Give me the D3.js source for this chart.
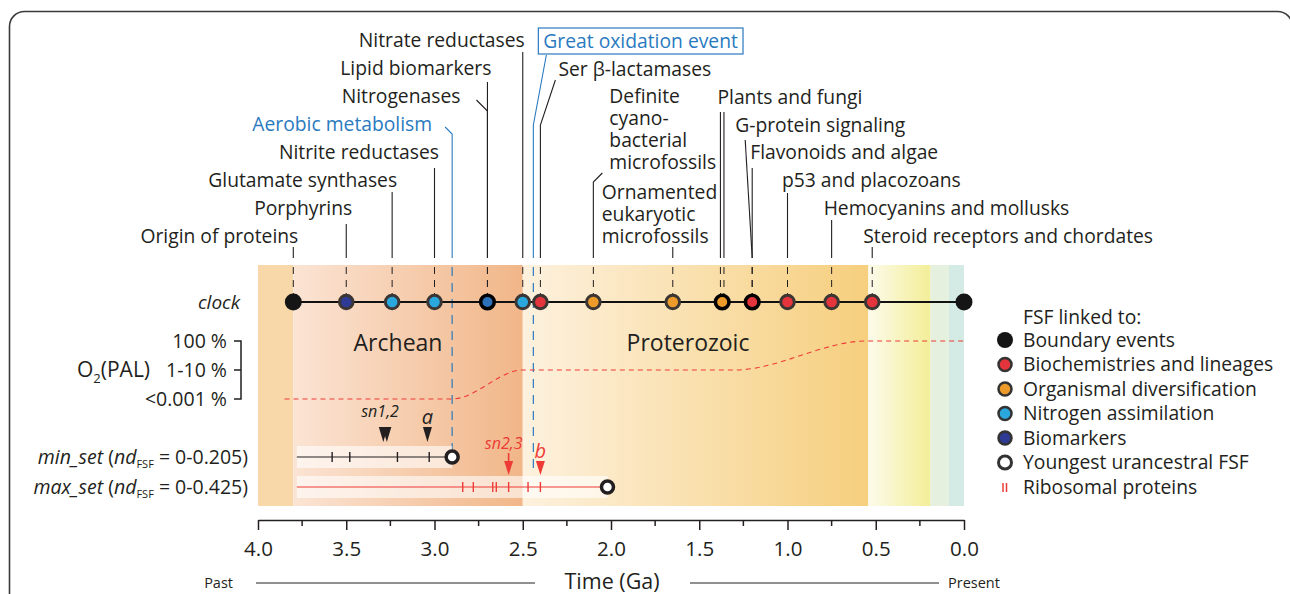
<!DOCTYPE html>
<html>
<head>
<meta charset="utf-8">
<script src="https://cdn.jsdelivr.net/npm/d3@7"></script>
<style>
body{margin:0;background:#fff}
svg{display:block;font-family:'Open Sans',sans-serif}
text{fill:#231f20}
</style>
</head>
<body>
<div id="container"></div>
<script>
// events placed on the molecular clock (age in Ga)
const eventNames = ['Origin of proteins','Porphyrins','Glutamate synthases','Nitrite reductases','Aerobic metabolism',
  'Nitrogenases','Lipid biomarkers','Nitrate reductases','Great oxidation event','Ser β-lactamases',
  'Definite|cyano-|bacterial|microfossils','Ornamented|eukaryotic|microfossils','Plants and fungi','Plants and fungi',
  'G-protein signaling','Flavonoids and algae','p53 and placozoans','Hemocyanins and mollusks','Steroid receptors and chordates']
const eventAges = [3.8, 3.5, 3.24, 3.0, 2.9, 2.7, 2.7, 2.5, 2.44, 2.4, 2.1, 1.65, 1.38, 1.36, 1.2, 1.2, 1.0, 0.75, 0.52]
const eventTypes = ['boundary','biomarkers','nitrogen','nitrogen','oxygen','nitrogen','biomarkers','nitrogen','oxygen','biochem',
  'organismal','organismal','organismal','organismal','biochem','biochem','biochem','biochem','biochem']
const presentAge = 0.0

// geological eons / eras behind the chart
const eraNames = ['Hadean','Archean','Proterozoic','Paleozoic','Mesozoic','Cenozoic']
const eraStart = [4.0, 3.8, 2.5, 0.542, 0.19, 0.085]
const eraEnd = [3.8, 2.5, 0.542, 0.19, 0.085, 0.0]

// atmospheric oxygen
const o2Ages = [3.85, 2.9, 2.5, 1.3, 0.55, 0.0]
const o2Levels = [0, 0, 1, 1, 2, 2]
const o2LevelLabels = ['<0.001 %', '1-10 %', '100 %']

// ribosomal protein sets
const setStart = 3.78
const minSetTicks = [3.58, 3.48, 3.21, 3.03]
const minSetYoungest = 2.9
const maxSetTicks = [2.84, 2.78, 2.67, 2.65, 2.58, 2.47, 2.40]
const maxSetYoungest = 2.02
const minArrowLabels = ['sn1,2', 'a']
const minArrowAges = [[3.29, 3.27], [3.04]]
const maxArrowLabels = ['sn2,3', 'b']
const maxArrowAges = [[2.58], [2.40]]

const timeTicks = [4.0, 3.5, 3.0, 2.5, 2.0, 1.5, 1.0, 0.5, 0.0]
const minorTicks = [3.75, 3.25, 2.75, 2.25, 1.75, 1.25, 0.75, 0.25]

const legendLabels = ['Boundary events','Biochemistries and lineages','Organismal diversification','Nitrogen assimilation','Biomarkers','Youngest urancestral FSF','Ribosomal proteins']
const legendTypes = ['boundary','biochem','organismal','nitrogen','biomarkers','youngest','ribosomal']

// ---- layout ----
const W = 1290, H = 594
const bandTop = 265, bandBottom = 506
const clockY = 302
const minY = 457, maxY = 487
const axisY = 520
const blue = '#2a7abf'
const red = '#ee3b36'
const fs = '19.3px'

const fills = {boundary:'#151515', biomarkers:'#2e3a93', nitrogen:'#2aa8de', biochem:'#e3353b', organismal:'#ec9a2a', youngest:'#fff'}

// label placement: anchor, dx from event x, y of first line, leader [dx start, y start, y of kink]
const labelLayout = [
  {a:'end', dx:5, y:236, lead:[0, 247, 247]},
  {a:'end', dx:6, y:208, lead:[0, 224, 224]},
  {a:'end', dx:5, y:180, lead:[0, 192, 192]},
  {a:'end', dx:4.5, y:152, lead:[0, 168, 168]},
  {a:'end', dx:-20, y:124, lead:[-7, 127, 134]},
  {a:'end', dx:-27, y:96, lead:[-11, 100, 111]},
  {a:'end', dx:4, y:68, lead:[0, 82, 82]},
  {a:'end', dx:2, y:40, lead:[0, 52, 52]},
  {a:'start', dx:10, y:41, lead:[13, 55, 125], box:true},
  {a:'start', dx:18, y:69, lead:[15, 80, 125]},
  {a:'start', dx:16, y:96, lead:[9, 173, 182]},
  {a:'start', dx:-71, y:192, lead:[0, 247, 247]},
  {a:'start', dx:-3, y:97, lead:[0, 112, 112]},
  {a:null, dx:0, y:0, lead:[0, 112, 112]},
  {a:'start', dx:-17, y:125, lead:[-7, 140, 258]},
  {a:'start', dx:-2, y:152, lead:[0, 168, 168]},
  {a:'start', dx:-5.5, y:180, lead:[0, 193, 193]},
  {a:'start', dx:-8, y:208, lead:[0, 220, 220]},
  {a:'start', dx:-9, y:236, lead:[0, 247, 247]}
]

const x = d3.scaleLinear().domain([4, 0]).range([258, 964])
const o2y = d3.scaleLinear().domain([0, 2]).range([399, 341])

const svg = d3.select('#container').append('svg')
  .attr('width', W).attr('height', H)

// frame
svg.append('rect')
  .attr('x', 9.5).attr('y', 11.5).attr('width', 1283).attr('height', 660).attr('rx', 15)
  .attr('fill', 'none').attr('stroke', '#3a3a3a').attr('stroke-width', 1.6)

// era gradients
const eraColors = [['#f8d8a8','#f8d8a8'],['#fbe4d4','#f1b688'],['#fdf1de','#f6cf7e'],['#fcfbea','#f3ee98'],['#e5f0de','#e5f0de'],['#d4eae4','#d4eae4']]
const defs = svg.append('defs')
eraNames.forEach((n, i) => {
  const g = defs.append('linearGradient').attr('id', 'g' + i)
  g.append('stop').attr('offset', '0%').attr('stop-color', eraColors[i][0])
  g.append('stop').attr('offset', '100%').attr('stop-color', eraColors[i][1])
})

svg.selectAll('.era')
  .data(eraNames)
  .enter()
  .append('rect')
  .attr('class', 'era')
  .attr('x', (d, i) => x(eraStart[i]))
  .attr('width', (d, i) => x(eraEnd[i]) - x(eraStart[i]))
  .attr('y', bandTop)
  .attr('height', bandBottom - bandTop)
  .attr('fill', (d, i) => 'url(#g' + i + ')')

svg.append('text').text('Archean')
  .attr('x', (x(3.8) + x(2.5)) / 2 - 10).attr('y', 343).attr('dy', '0.35em')
  .attr('text-anchor', 'middle').style('font-size', '23px')
svg.append('text').text('Proterozoic')
  .attr('x', 688).attr('y', 343).attr('dy', '0.35em')
  .attr('text-anchor', 'middle').style('font-size', '23px')

// event labels
const events = eventNames.map((n, i) => ({name:n, age:eventAges[i], type:eventTypes[i], lay:labelLayout[i]}))

events.forEach(d => {
  const L = d.lay
  const ex = x(d.age)
  const col = d.type === 'oxygen' ? blue : '#231f20'
  if (L.a) {
    const t = svg.append('text')
      .attr('text-anchor', L.a)
      .style('font-size', fs)
      .style('fill', col)
    d.name.split('|').forEach((line, k) => {
      t.append('tspan').attr('x', ex + L.dx).attr('y', L.y + k * 22).attr('dy', '0.35em').text(line)
    })
    if (L.box) {
      const bb = t.node().getBBox()
      svg.append('rect')
        .attr('x', bb.x - 5).attr('y', L.y - 13).attr('width', bb.width + 10).attr('height', 26)
        .attr('fill', 'none').attr('stroke', blue).attr('stroke-width', 1.2)
    }
  }
  // solid leader above the band
  svg.append('path')
    .attr('d', `M${ex + L.lead[0]},${L.lead[1]}L${ex},${L.lead[2]}L${ex},258`)
    .attr('fill', 'none').attr('stroke', col).attr('stroke-width', 1.1)
  // dashed part inside the band
  let yEnd = clockY - 8
  if (d.type === 'oxygen') yEnd = d.age > 2.6 ? minY - 7 : 473
  svg.append('line')
    .attr('x1', ex).attr('x2', ex).attr('y1', 267).attr('y2', yEnd)
    .attr('stroke', col).attr('stroke-width', d.type === 'oxygen' ? 1.2 : 1)
    .attr('stroke-dasharray', d.type === 'oxygen' ? '9,7' : '7,6')
})

// O2 curve
svg.append('path')
  .datum(o2Ages.map((a, i) => [a, o2Levels[i]]))
  .attr('d', d3.line().x(d => x(d[0])).y(d => o2y(d[1])).curve(d3.curveMonotoneX))
  .attr('fill', 'none').attr('stroke', red).attr('stroke-width', 1.1)
  .attr('stroke-dasharray', '5,4')

// O2 bracket
svg.append('path')
  .attr('d', `M234,${o2y(2)}H241V${o2y(0)}H234M234,${o2y(1)}H241`)
  .attr('fill', 'none').attr('stroke', '#231f20').attr('stroke-width', 1.5)
svg.selectAll('.o2lab')
  .data(o2LevelLabels)
  .enter()
  .append('text')
  .attr('x', 227).attr('y', (d, i) => o2y(i)).attr('dy', '0.35em')
  .attr('text-anchor', 'end').style('font-size', '19.5px')
  .text(d => d)
const o2t = svg.append('text').attr('x', 77).attr('y', o2y(1)).attr('dy', '0.35em').style('font-size', '21px')
o2t.append('tspan').text('O')
o2t.append('tspan').text('2').style('font-size', '13px').attr('dy', '6')
o2t.append('tspan').text('(PAL)').attr('dy', '-6')

// clock line and points
svg.append('text').text('clock').attr('x', 240).attr('y', clockY).attr('dy', '0.35em')
  .attr('text-anchor', 'end').style('font-size', '19px').style('font-style', 'italic')
svg.append('line')
  .attr('x1', x(eventAges[0])).attr('x2', x(presentAge)).attr('y1', clockY).attr('y2', clockY)
  .attr('stroke', '#111').attr('stroke-width', 1.8)

const clockEvents = events.filter(d => d.type !== 'oxygen')
const clusters = []
clockEvents.forEach(d => {
  const c = clusters.find(c => Math.abs(c.ages[0] - d.age) < 0.03)
  if (c) { c.ages.push(d.age); c.types.push(d.type) } else clusters.push({ages:[d.age], types:[d.type]})
})
clusters.push({ages:[presentAge], types:['boundary']})

svg.selectAll('.pt')
  .data(clusters)
  .enter()
  .append('circle')
  .attr('class', 'pt')
  .attr('cx', d => x(d3.mean(d.ages)))
  .attr('cy', clockY)
  .attr('r', d => d.types[0] === 'boundary' ? 8.5 : 6.8)
  .attr('fill', d => {
    const cols = Array.from(new Set(d.types)).map(t => fills[t])
    return cols.length > 1 ? d3.interpolateRgb(cols[0], cols[1])(0.5) : cols[0]
  })
  .attr('stroke', d => d.types[0] === 'boundary' ? '#111' : (d.ages.length > 1 ? '#000' : '#3b3633'))
  .attr('stroke-width', d => d.types[0] === 'boundary' ? 0 : (d.ages.length > 1 ? 3.6 : 3))

// min_set / max_set rows
function drawSet(yy, ticks, youngest, color, arrowLabels, arrowAges, label) {
  svg.append('rect')
    .attr('x', x(setStart)).attr('y', yy - 11)
    .attr('width', x(youngest) - x(setStart)).attr('height', 22)
    .attr('fill', '#fff').attr('opacity', 0.6)
  svg.append('line')
    .attr('x1', x(setStart)).attr('x2', x(youngest)).attr('y1', yy).attr('y2', yy)
    .attr('stroke', color).attr('stroke-width', 1.2)
  svg.selectAll(null)
    .data(ticks)
    .enter()
    .append('line')
    .attr('x1', d => x(d)).attr('x2', d => x(d))
    .attr('y1', yy - 5).attr('y2', yy + 5)
    .attr('stroke', color).attr('stroke-width', 1.4)
  svg.append('circle')
    .attr('cx', x(youngest)).attr('cy', yy).attr('r', 6)
    .attr('fill', '#fff').attr('stroke', '#231f20').attr('stroke-width', 3.5)

  arrowLabels.forEach((lab, i) => {
    const ages = arrowAges[i]
    const isB = lab.length === 1
    const tip = yy - (color === red ? 12 : 15)
    const headTop = tip - (color === red ? 14 : 15)
    ages.forEach(a => {
      if (!isB && color === red) {
        svg.append('line').attr('x1', x(a)).attr('x2', x(a)).attr('y1', tip - 22).attr('y2', headTop)
          .attr('stroke', color).attr('stroke-width', 1.6)
      }
      svg.append('path')
        .attr('d', `M${x(a) - 4.5},${headTop}L${x(a) + 4.5},${headTop}L${x(a)},${tip}Z`)
        .attr('fill', color === red ? red : '#231f20')
    })
    svg.append('text')
      .attr('x', x(d3.mean(ages)) - (isB ? 0 : 5))
      .attr('y', isB ? headTop - 10 : (color === red ? tip - 32 : headTop - 16))
      .attr('dy', '0.35em').attr('text-anchor', 'middle')
      .style('font-style', 'italic').style('font-size', isB ? '20px' : '16px')
      .style('fill', color === red ? red : '#231f20')
      .text(lab)
  })

  const t = svg.append('text').attr('x', 248).attr('y', yy).attr('dy', '0.35em')
    .attr('text-anchor', 'end').style('font-size', '19.5px')
  t.append('tspan').text(label).style('font-style', 'italic')
  t.append('tspan').text('  (')
  t.append('tspan').text('nd').style('font-style', 'italic')
  t.append('tspan').text('FSF').style('font-size', '11px').attr('dy', 4)
  t.append('tspan').text(' = 0-' + (label === 'min_set' ? '0.205' : '0.425') + ')').attr('dy', -4)
}
drawSet(minY, minSetTicks, minSetYoungest, '#231f20', minArrowLabels, minArrowAges, 'min_set')
drawSet(maxY, maxSetTicks, maxSetYoungest, red, maxArrowLabels, maxArrowAges, 'max_set')

// time axis
const axis = svg.append('g')
  .attr('transform', `translate(0,${axisY})`)
  .call(d3.axisBottom(x).tickValues(timeTicks).tickFormat(d3.format('.1f')).tickSize(10).tickSizeOuter(0).tickPadding(11))
axis.selectAll('text').style('font-size', '20.5px').style('font-family', "'Open Sans',sans-serif").attr('fill', '#231f20')
axis.selectAll('line, path').attr('stroke', '#231f20').attr('stroke-width', 1.5)
axis.selectAll('.minor')
  .data(minorTicks)
  .enter()
  .append('line')
  .attr('x1', d => x(d)).attr('x2', d => x(d)).attr('y1', 0).attr('y2', 6)
  .attr('stroke', '#231f20').attr('stroke-width', 1.5)

svg.append('text').text('Past').attr('x', 233).attr('y', 583).attr('dy', '0.35em')
  .attr('text-anchor', 'end').style('font-size', '14.5px')
svg.append('line').attr('x1', 256).attr('x2', 535).attr('y1', 583).attr('y2', 583).attr('stroke', '#231f20').attr('stroke-width', 1)
svg.append('text').text('Time (Ga)').attr('x', 612).attr('y', 581).attr('dy', '0.35em')
  .attr('text-anchor', 'middle').style('font-size', '21.5px')
svg.append('line').attr('x1', 690).attr('x2', 939).attr('y1', 583).attr('y2', 583).attr('stroke', '#231f20').attr('stroke-width', 1)
svg.append('text').text('Present').attr('x', 948).attr('y', 583).attr('dy', '0.35em')
  .style('font-size', '14.5px')

// legend
const legend = svg.append('g').attr('transform', 'translate(1005,340)')
legend.append('text').text('FSF linked to:').attr('x', 18).attr('y', -23).attr('dy', '0.35em').style('font-size', fs)
legendTypes.forEach((t, i) => {
  const gy = i * 24.5
  if (t === 'ribosomal') {
    legend.append('line').attr('x1', -2).attr('x2', -2).attr('y1', gy - 4).attr('y2', gy + 5).attr('stroke', red).attr('stroke-width', 1.5)
    legend.append('line').attr('x1', 1.5).attr('x2', 1.5).attr('y1', gy - 4).attr('y2', gy + 5).attr('stroke', red).attr('stroke-width', 1.5)
  } else {
    legend.append('circle').attr('cx', 0).attr('cy', gy).attr('r', t === 'boundary' ? 8 : 6.5)
      .attr('fill', fills[t])
      .attr('stroke', t === 'boundary' ? 'none' : '#333')
      .attr('stroke-width', t === 'youngest' ? 3 : 2.5)
  }
  legend.append('text').text(legendLabels[i]).attr('x', 18).attr('y', gy).attr('dy', '0.35em').style('font-size', fs)
})
</script>
</body>
</html>
